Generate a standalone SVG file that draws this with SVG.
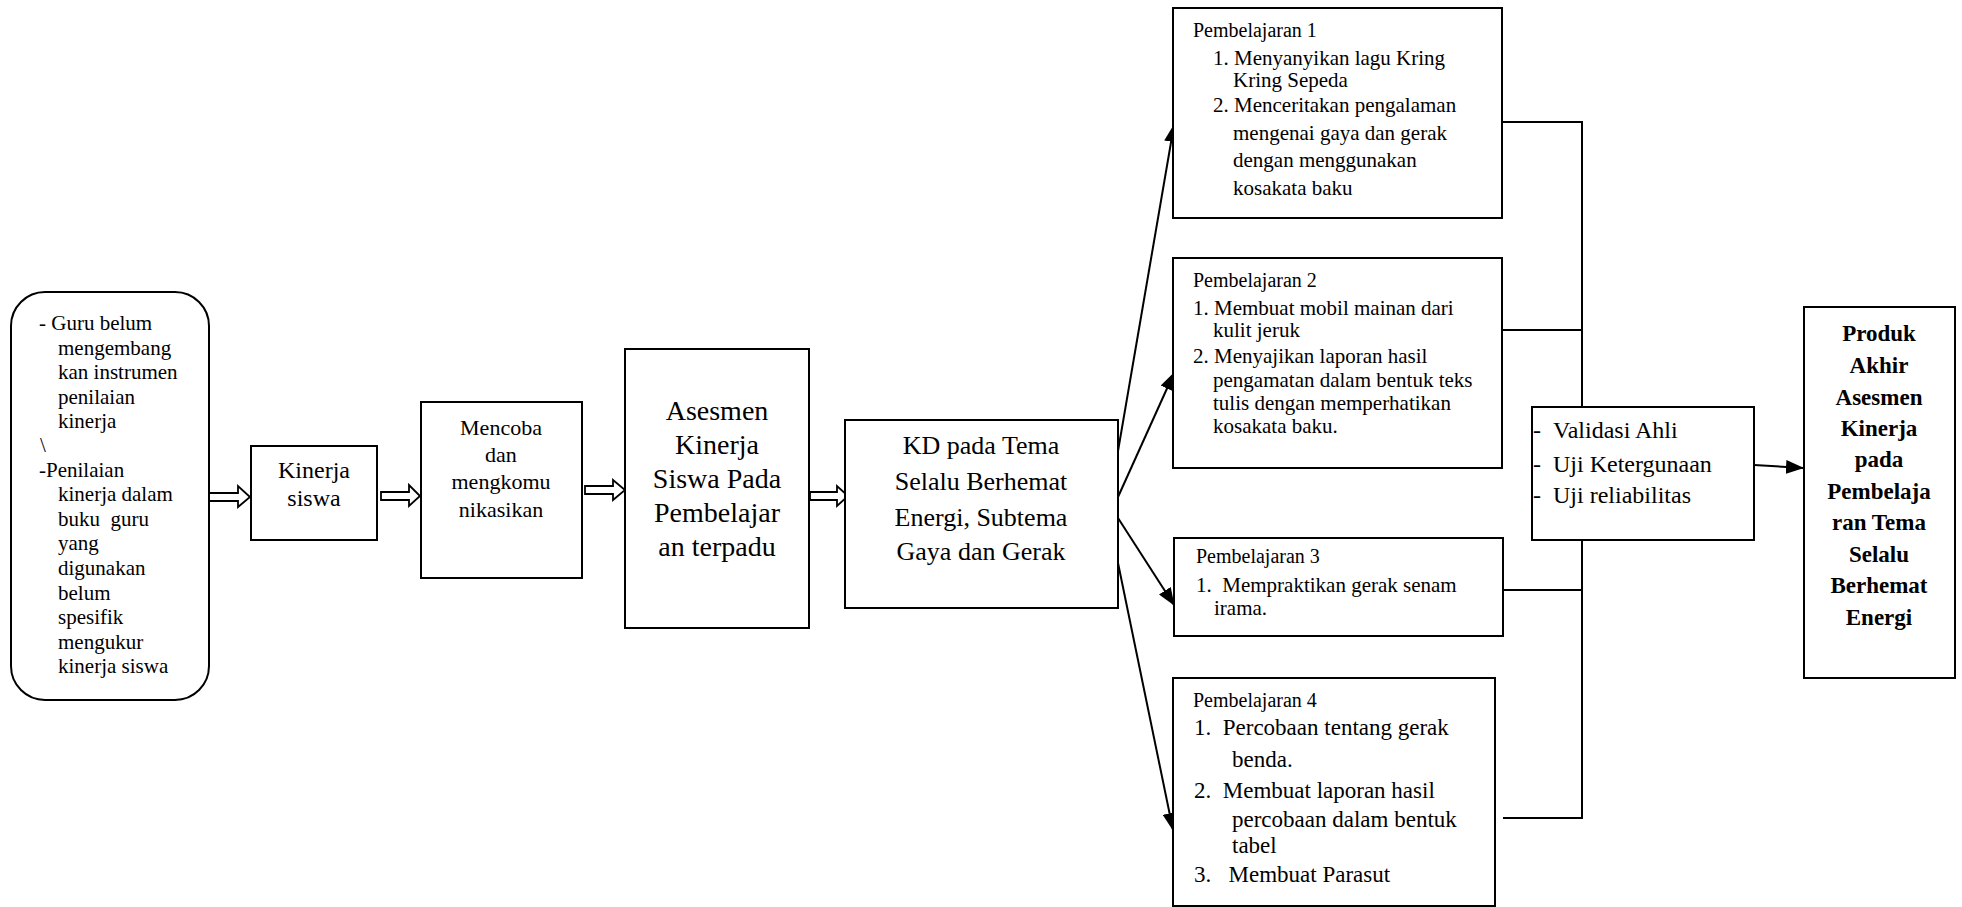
<svg xmlns="http://www.w3.org/2000/svg" width="1962" height="907" viewBox="0 0 1962 907">
<style>
  .box { fill: #fff; stroke: #000; stroke-width: 2; }
  .ln { fill: none; stroke: #000; stroke-width: 2; }
  .harrow { fill: #fff; stroke: #000; stroke-width: 1.8; stroke-linejoin: miter; }
  text { font-family: "Liberation Serif", "Times New Roman", serif; fill: #000; white-space: pre; }
  .c { text-anchor: middle; }
  .b { font-weight: bold; }
</style>
<defs>
  <marker id="ah" markerUnits="userSpaceOnUse" markerWidth="18" markerHeight="14" refX="17" refY="7" orient="auto">
    <path d="M0,0 L18,7 L0,14 Z" fill="#000"/>
  </marker>
</defs>
<rect width="1962" height="907" fill="#fff"/>

<g id="connectors">
  <polygon class="harrow" points="209,493 238,493 238,486 250,497 238,507 238,501 209,501"/>
  <polygon class="harrow" points="381,492 409,492 409,485 420,496 409,506 409,500 381,500"/>
  <polygon class="harrow" points="585,486 613,486 613,480 625,490 613,500 613,494 585,494"/>
  <polygon class="harrow" points="810,492 837,492 837,486 848,496 837,506 837,500 810,500"/>
  <line class="ln" x1="1118" y1="451" x2="1174" y2="125" marker-end="url(#ah)"/>
  <line class="ln" x1="1118" y1="497" x2="1174" y2="373" marker-end="url(#ah)"/>
  <line class="ln" x1="1118" y1="518" x2="1174" y2="605" marker-end="url(#ah)"/>
  <line class="ln" x1="1118" y1="563" x2="1173" y2="830" marker-end="url(#ah)"/>
  <polyline class="ln" points="1502,122 1582,122 1582,407"/>
  <line class="ln" x1="1502" y1="330" x2="1582" y2="330"/>
  <polyline class="ln" points="1582,540 1582,818 1503,818"/>
  <line class="ln" x1="1503" y1="590" x2="1582" y2="590"/>
  <line class="ln" x1="1754" y1="465" x2="1803" y2="468" marker-end="url(#ah)"/>
</g>

<g id="masalah">
  <rect class="box" x="11" y="292" width="198" height="408" rx="34" ry="34"/>
  <text font-size="21"><tspan x="39" y="330">- Guru belum</tspan><tspan x="58" y="355">mengembang</tspan><tspan x="58" y="379">kan instrumen</tspan><tspan x="58" y="404">penilaian</tspan><tspan x="58" y="428">kinerja</tspan><tspan x="40" y="452">\</tspan><tspan x="39" y="477">-Penilaian</tspan><tspan x="58" y="501">kinerja dalam</tspan><tspan x="58" y="526">buku  guru</tspan><tspan x="58" y="550">yang</tspan><tspan x="58" y="575">digunakan</tspan><tspan x="58" y="600">belum</tspan><tspan x="58" y="624">spesifik</tspan><tspan x="58" y="649">mengukur</tspan><tspan x="58" y="673">kinerja siswa</tspan></text>
</g>

<g id="kinerja">
  <rect class="box" x="251" y="446" width="126" height="94"/>
  <text class="c" font-size="24"><tspan x="314" y="478">Kinerja</tspan><tspan x="314" y="506">siswa</tspan></text>
</g>

<g id="mencoba">
  <rect class="box" x="421" y="402" width="161" height="176"/>
  <text class="c" font-size="22"><tspan x="501" y="435">Mencoba</tspan><tspan x="501" y="462">dan</tspan><tspan x="501" y="489">mengkomu</tspan><tspan x="501" y="517">nikasikan</tspan></text>
</g>

<g id="asesmen">
  <rect class="box" x="625" y="349" width="184" height="279"/>
  <text class="c" font-size="28"><tspan x="717" y="420">Asesmen</tspan><tspan x="717" y="454">Kinerja</tspan><tspan x="717" y="488">Siswa Pada</tspan><tspan x="717" y="522">Pembelajar</tspan><tspan x="717" y="556">an terpadu</tspan></text>
</g>

<g id="kd">
  <rect class="box" x="845" y="420" width="273" height="188"/>
  <text class="c" font-size="26"><tspan x="981" y="454">KD pada Tema</tspan><tspan x="981" y="490">Selalu Berhemat</tspan><tspan x="981" y="526">Energi, Subtema</tspan><tspan x="981" y="560">Gaya dan Gerak</tspan></text>
</g>

<g id="pembelajaran1">
  <rect class="box" x="1173" y="8" width="329" height="210"/>
  <text font-size="20" x="1193" y="37">Pembelajaran 1</text>
  <text font-size="21"><tspan x="1213" y="65">1. Menyanyikan lagu Kring</tspan><tspan x="1233" y="87">Kring Sepeda</tspan><tspan x="1213" y="112">2. Menceritakan pengalaman</tspan><tspan x="1233" y="140">mengenai gaya dan gerak</tspan><tspan x="1233" y="167">dengan menggunakan</tspan><tspan x="1233" y="195">kosakata baku</tspan></text>
</g>

<g id="pembelajaran2">
  <rect class="box" x="1173" y="258" width="329" height="210"/>
  <text font-size="20" x="1193" y="287">Pembelajaran 2</text>
  <text font-size="21"><tspan x="1193" y="315">1. Membuat mobil mainan dari</tspan><tspan x="1213" y="337">kulit jeruk</tspan><tspan x="1193" y="363">2. Menyajikan laporan hasil</tspan><tspan x="1213" y="387">pengamatan dalam bentuk teks</tspan><tspan x="1213" y="410">tulis dengan memperhatikan</tspan><tspan x="1213" y="433">kosakata baku.</tspan></text>
</g>

<g id="pembelajaran3">
  <rect class="box" x="1174" y="538" width="329" height="98"/>
  <text font-size="20" x="1196" y="563">Pembelajaran 3</text>
  <text font-size="21"><tspan x="1196" y="592">1.  Mempraktikan gerak senam</tspan><tspan x="1214" y="615">irama.</tspan></text>
</g>

<g id="pembelajaran4">
  <rect class="box" x="1173" y="678" width="322" height="228"/>
  <text font-size="20" x="1193" y="707">Pembelajaran 4</text>
  <text font-size="23"><tspan x="1194" y="735">1.  Percobaan tentang gerak</tspan><tspan x="1232" y="767">benda.</tspan><tspan x="1194" y="798">2.  Membuat laporan hasil</tspan><tspan x="1232" y="827">percobaan dalam bentuk</tspan><tspan x="1232" y="853">tabel</tspan><tspan x="1194" y="882">3.   Membuat Parasut</tspan></text>
</g>

<g id="validasi">
  <rect class="box" x="1532" y="407" width="222" height="133"/>
  <text font-size="24"><tspan x="1533" y="438">-</tspan><tspan x="1553" y="438">Validasi Ahli</tspan><tspan x="1533" y="472">-</tspan><tspan x="1553" y="472">Uji Ketergunaan</tspan><tspan x="1533" y="503">-</tspan><tspan x="1553" y="503">Uji reliabilitas</tspan></text>
</g>

<g id="produk">
  <rect class="box" x="1804" y="307" width="151" height="371"/>
  <text class="c b" font-size="23"><tspan x="1879" y="341">Produk</tspan><tspan x="1879" y="373">Akhir</tspan><tspan x="1879" y="405">Asesmen</tspan><tspan x="1879" y="436">Kinerja</tspan><tspan x="1879" y="467">pada</tspan><tspan x="1879" y="499">Pembelaja</tspan><tspan x="1879" y="530">ran Tema</tspan><tspan x="1879" y="562">Selalu</tspan><tspan x="1879" y="593">Berhemat</tspan><tspan x="1879" y="625">Energi</tspan></text>
</g>
</svg>
